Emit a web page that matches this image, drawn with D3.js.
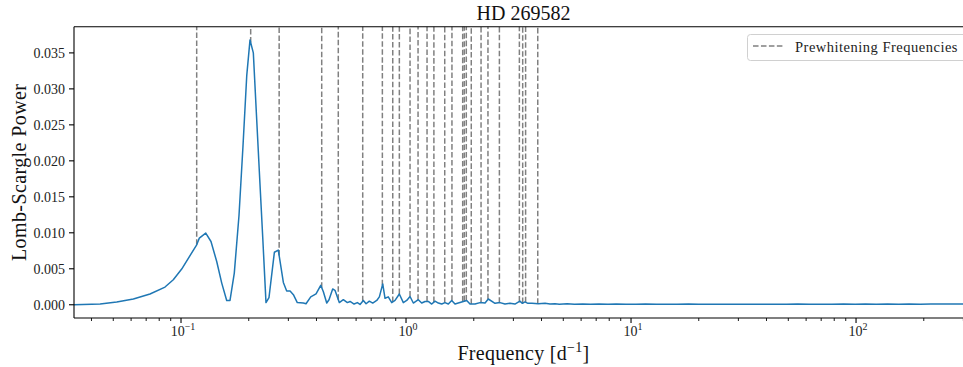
<!DOCTYPE html>
<html>
<head>
<meta charset="utf-8">
<script src="https://cdn.jsdelivr.net/npm/d3@7"></script>
<style>
  html, body { margin: 0; padding: 0; background: #fff; }
  svg { display: block; font-family: "Liberation Serif", "DejaVu Serif", serif; }
</style>
</head>
<body>
<svg id="chart" width="963" height="367"></svg>
<script>
// Lomb-Scargle periodogram of HD 269582 (frequency in 1/d, power)
const freq = [
  0.0300, 0.0335, 0.0437, 0.0518, 0.0614, 0.0728, 0.0849, 0.0924, 0.1007, 0.1174,
  0.1206, 0.1288, 0.1359, 0.1441, 0.1517, 0.1596, 0.1651, 0.1725, 0.1810, 0.1885,
  0.1959, 0.2026, 0.2096, 0.2165, 0.2235, 0.2310, 0.2386, 0.2460, 0.2600, 0.2706,
  0.2850, 0.2949, 0.3053, 0.3158, 0.3287, 0.3496, 0.3594, 0.3772, 0.3982, 0.4178,
  0.4292, 0.4442, 0.4547, 0.4721, 0.4834, 0.5052, 0.5265, 0.5487, 0.5641, 0.5877,
  0.6076, 0.6246, 0.6462, 0.6645, 0.6870, 0.7113, 0.7410, 0.7613, 0.7880, 0.8066,
  0.8340, 0.8639, 0.8936, 0.9338, 0.9728, 1.0072, 1.0418, 1.0776, 1.1340, 1.1740,
  1.2150, 1.2560, 1.3010, 1.3460, 1.3920, 1.4410, 1.4900, 1.5420, 1.5960, 1.6510,
  1.7070, 1.7980, 1.8610, 1.9250, 2.0260, 2.1330, 2.2450, 2.3210, 2.4860, 2.6160,
  2.7520, 2.8960, 3.0480, 3.2070, 3.2900, 3.3780, 3.4800, 3.6300, 3.8700, 4.1480,
  4.3650, 4.5930, 4.8000, 5.2000, 5.6000, 6.1000, 6.6000, 7.2000, 7.9000, 8.6000,
  9.5000, 10.500, 11.600, 13.000, 14.500, 16.000, 18.000, 20.000, 22.500, 25.000,
  28.000, 31.000, 35.000, 39.000, 44.000, 49.000, 55.000, 62.000, 70.000, 78.000,
  88.000, 99.000, 110.00, 123.00, 138.00, 155.00, 172.00, 193.00, 215.00, 240.00,
  268.00, 300.00, 335.00
];
const power = [
  0.00000, 0.00000, 0.00010, 0.00038, 0.00079, 0.00149, 0.00246, 0.00347, 0.00496, 0.00833,
  0.00926, 0.00996, 0.00879, 0.00601, 0.00301, 0.00060, 0.00060, 0.00440, 0.01240, 0.02200,
  0.03180, 0.03680, 0.03500, 0.02630, 0.01780, 0.00910, 0.00030, 0.00100, 0.00730, 0.00760,
  0.00310, 0.00190, 0.00190, 0.00140, 0.00030, 0.00024, 0.00014, 0.00110, 0.00150, 0.00270,
  0.00180, 0.00024, 0.00070, 0.00220, 0.00200, 0.00030, 0.00070, 0.00030, 0.00046, 0.00010,
  0.00030, 0.00004, 0.00060, 0.00014, 0.00050, 0.00024, 0.00060, 0.00110, 0.00290, 0.00090,
  0.00110, 0.00030, 0.00060, 0.00150, 0.00030, 0.00060, 0.00115, 0.00024, 0.00070, 0.00024,
  0.00046, 0.00046, 0.00010, 0.00050, 0.00024, 0.00010, 0.00030, 0.00010, 0.00060, 0.00010,
  0.00024, 0.00046, 0.00060, 0.00010, 0.00010, 0.00030, 0.00024, 0.00080, 0.00020, 0.00030,
  0.00010, 0.00020, 0.00010, 0.00050, 0.00020, 0.00040, 0.00020, 0.00020, 0.00014, 0.00020,
  0.00010, 0.00015, 0.00008, 0.00014, 0.00007, 0.00012, 0.00008, 0.00011, 0.00007, 0.00010,
  0.00008, 0.00006, 0.00009, 0.00007, 0.00008, 0.00006, 0.00009, 0.00007, 0.00008, 0.00006,
  0.00008, 0.00007, 0.00008, 0.00006, 0.00008, 0.00007, 0.00009, 0.00006, 0.00008, 0.00007,
  0.00009, 0.00007, 0.00010, 0.00007, 0.00011, 0.00008, 0.00012, 0.00008, 0.00011, 0.00009,
  0.00012, 0.00009, 0.00010
];
// Frequencies removed during prewhitening (1/d)
const prewhiteningFreqs = [
  0.1174, 0.2040, 0.2730, 0.4220, 0.5000, 0.6420, 0.7850, 0.8730, 0.9340, 1.0420,
  1.1310, 1.2400, 1.3300, 1.4860, 1.6000, 1.7860, 1.8150, 1.8530, 1.9500, 2.1550,
  2.3130, 2.6000, 3.1900, 3.3000, 3.4000, 3.8500
];
const yTickValues = [0.000, 0.005, 0.010, 0.015, 0.020, 0.025, 0.030, 0.035];
const xMajorTicks = [0.1, 1, 10, 100];
const xTickExponents = ["\u22121", "0", "1", "2"];
const yLimits = [-0.00184, 0.03864];
const xLimits = [0.03345, 331];

const svg = d3.select("#chart");
const margin = { left: 74, right: 973, top: 26.7, bottom: 318 };

const x = d3.scaleLog().domain(xLimits).range([margin.left, margin.right]);
const y = d3.scaleLinear().domain(yLimits).range([margin.bottom, margin.top]);

svg.append("defs").append("clipPath").attr("id", "plot-clip")
  .append("rect")
  .attr("x", margin.left).attr("y", margin.top)
  .attr("width", margin.right - margin.left)
  .attr("height", margin.bottom - margin.top);

const plot = svg.append("g").attr("clip-path", "url(#plot-clip)");

// power at a given frequency, interpolated in log-frequency
function powerAt(f) {
  const i = d3.bisectLeft(freq, f);
  if (i <= 0) return power[0];
  if (i >= freq.length) return power[power.length - 1];
  const f0 = freq[i - 1], f1 = freq[i];
  const t = (Math.log(f) - Math.log(f0)) / (Math.log(f1) - Math.log(f0));
  return power[i - 1] + t * (power[i] - power[i - 1]);
}

// prewhitening markers
plot.selectAll("line.pw")
  .data(prewhiteningFreqs)
  .enter().append("line")
  .attr("class", "pw")
  .attr("x1", d => x(d)).attr("x2", d => x(d))
  .attr("y1", d => y(powerAt(d)))
  .attr("y2", y(yLimits[1]) - 2)
  .attr("stroke", "#808080")
  .attr("stroke-width", 1.5)
  .attr("stroke-dasharray", "5.55,2.4");

// periodogram
const line = d3.line()
  .x((d, i) => x(freq[i]))
  .y((d, i) => y(power[i]));
plot.append("path")
  .datum(power)
  .attr("d", line)
  .attr("fill", "none")
  .attr("stroke", "#1f77b4")
  .attr("stroke-width", 1.5)
  .attr("stroke-linejoin", "round");

// spines
svg.append("line").attr("x1", margin.left).attr("x2", margin.right)
  .attr("y1", margin.top).attr("y2", margin.top)
  .attr("stroke", "#000").attr("stroke-width", 1.1);
svg.append("line").attr("x1", margin.left).attr("x2", margin.right)
  .attr("y1", margin.bottom).attr("y2", margin.bottom)
  .attr("stroke", "#000").attr("stroke-width", 1.1);
svg.append("line").attr("x1", margin.left).attr("x2", margin.left)
  .attr("y1", margin.top).attr("y2", margin.bottom)
  .attr("stroke", "#000").attr("stroke-width", 1.1);

// x axis ticks
const minorTicks = [];
for (let e = -2; e <= 2; e++) {
  for (let m = 2; m <= 9; m++) {
    const v = m * Math.pow(10, e);
    if (v >= xLimits[0] && v <= xLimits[1]) minorTicks.push(v);
  }
}
const xAxis = svg.append("g");
xAxis.selectAll("line.minor").data(minorTicks).enter().append("line")
  .attr("x1", d => x(d)).attr("x2", d => x(d))
  .attr("y1", margin.bottom).attr("y2", margin.bottom + 3)
  .attr("stroke", "#000").attr("stroke-width", 0.9);
xAxis.selectAll("line.major").data(xMajorTicks).enter().append("line")
  .attr("x1", d => x(d)).attr("x2", d => x(d))
  .attr("y1", margin.bottom).attr("y2", margin.bottom + 5)
  .attr("stroke", "#000").attr("stroke-width", 1.1);
const xLabels = xAxis.selectAll("text.xt").data(xMajorTicks).enter().append("text")
  .attr("x", d => x(d) + 2)
  .attr("y", 336)
  .attr("text-anchor", "middle")
  .attr("font-size", 14)
  .attr("fill", "#222");
xLabels.append("tspan").text("10");
xLabels.append("tspan")
  .attr("font-size", 10)
  .attr("dy", -6)
  .text((d, i) => xTickExponents[i]);

// y axis ticks
const yAxis = svg.append("g");
yAxis.selectAll("line").data(yTickValues).enter().append("line")
  .attr("x1", margin.left - 5).attr("x2", margin.left)
  .attr("y1", d => y(d)).attr("y2", d => y(d))
  .attr("stroke", "#000").attr("stroke-width", 1.1);
yAxis.selectAll("text").data(yTickValues).enter().append("text")
  .attr("x", 65)
  .attr("y", d => y(d) + 5)
  .attr("text-anchor", "end")
  .attr("font-size", 14)
  .attr("fill", "#222")
  .text(d => d3.format(".3f")(d));

// title and axis labels
svg.append("text")
  .attr("x", (margin.left + margin.right) / 2).attr("y", 20)
  .attr("text-anchor", "middle").attr("font-size", 20).attr("fill", "#111")
  .text("HD 269582");

const xl = svg.append("text")
  .attr("x", (margin.left + margin.right) / 2).attr("y", 360)
  .attr("text-anchor", "middle").attr("font-size", 20).attr("fill", "#111")
  .attr("letter-spacing", 0.3);
xl.append("tspan").text("Frequency [d");
xl.append("tspan").attr("font-size", 14).attr("dy", -8).text("\u22121");
xl.append("tspan").attr("dy", 8).text("]");

svg.append("text")
  .attr("transform", `translate(26, ${(margin.top + margin.bottom) / 2}) rotate(-90)`)
  .attr("text-anchor", "middle").attr("font-size", 20).attr("fill", "#111")
  .attr("letter-spacing", 0.4)
  .text("Lomb-Scargle Power");

// legend
const legend = svg.append("g");
legend.append("rect")
  .attr("x", 747.5).attr("y", 34.5)
  .attr("width", 222).attr("height", 26)
  .attr("rx", 3)
  .attr("fill", "#fff").attr("fill-opacity", 0.8)
  .attr("stroke", "#d0d0d0").attr("stroke-width", 1);
legend.append("line")
  .attr("x1", 753).attr("x2", 784)
  .attr("y1", 46).attr("y2", 46)
  .attr("stroke", "#808080").attr("stroke-width", 1.5)
  .attr("stroke-dasharray", "5.55,2.4");
legend.append("text")
  .attr("x", 795).attr("y", 51.5)
  .attr("font-size", 14.5).attr("fill", "#222")
  .attr("letter-spacing", 0.5)
  .text("Prewhitening Frequencies");
</script>
</body>
</html>
